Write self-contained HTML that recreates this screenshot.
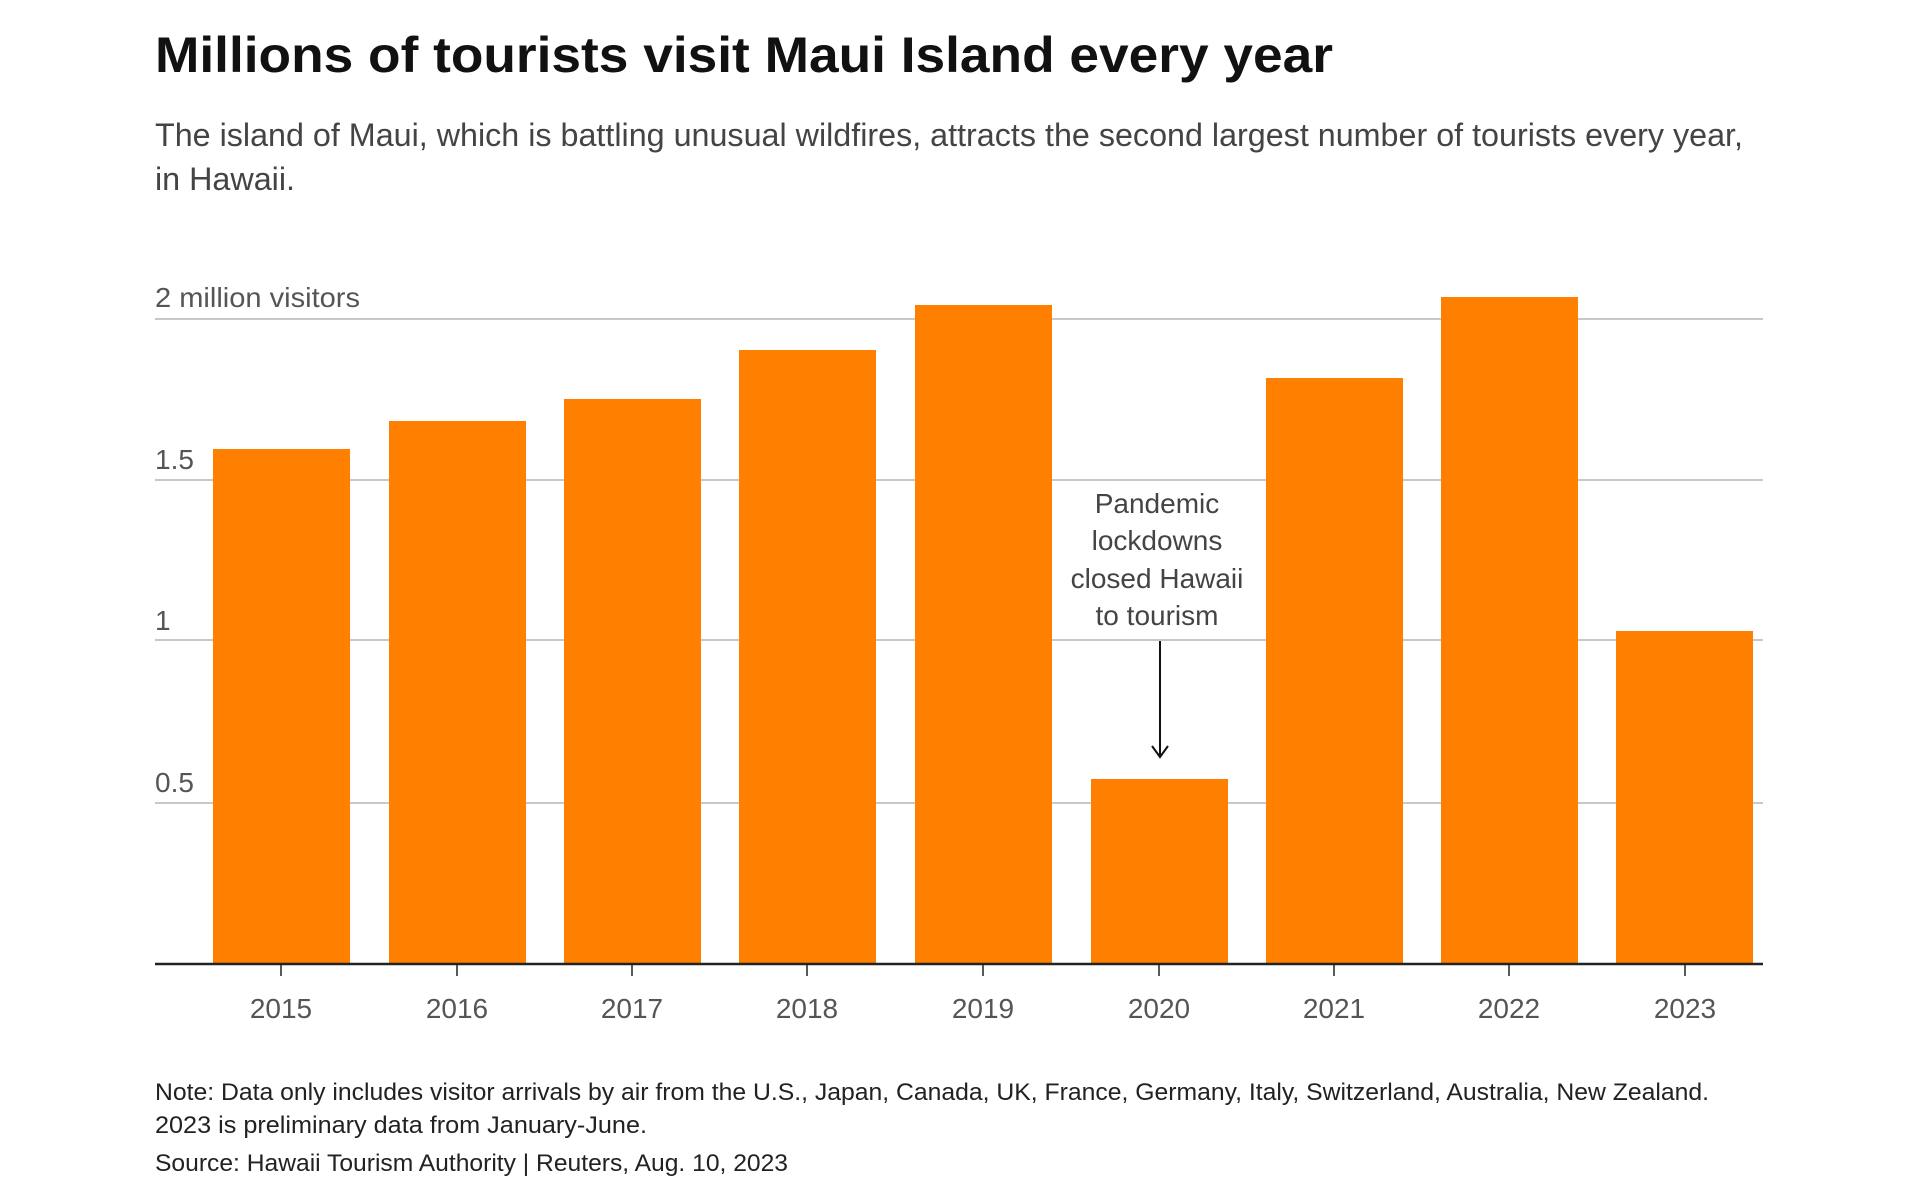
<!DOCTYPE html>
<html><head><meta charset="utf-8"><style>
html,body{margin:0;padding:0;background:#fff;}
svg{display:block;}
text{font-family:"Liberation Sans",sans-serif;}
</style></head><body>
<svg width="1920" height="1186" viewBox="0 0 1920 1186" xmlns="http://www.w3.org/2000/svg">
<rect width="1920" height="1186" fill="#fff"/>
<text x="155" y="72" font-size="50" font-weight="bold" fill="#111" textLength="1178" lengthAdjust="spacingAndGlyphs">Millions of tourists visit Maui Island every year</text>
<text x="155" y="146" font-size="32" fill="#444" textLength="1588" lengthAdjust="spacingAndGlyphs">The island of Maui, which is battling unusual wildfires, attracts the second largest number of tourists every year,</text>
<text x="155" y="190" font-size="32" fill="#444" textLength="140" lengthAdjust="spacingAndGlyphs">in Hawaii.</text>
<g stroke="#c8c8c8" stroke-width="2">
<line x1="155" y1="319" x2="1763" y2="319"/>
<line x1="155" y1="480" x2="1763" y2="480"/>
<line x1="155" y1="640" x2="1763" y2="640"/>
<line x1="155" y1="803" x2="1763" y2="803"/>
</g>
<rect x="1068" y="482" width="184" height="148" fill="#fff"/>
<g font-size="28" fill="#555">
<text x="155" y="307" textLength="205" lengthAdjust="spacingAndGlyphs">2 million visitors</text>
<text x="155" y="469">1.5</text>
<text x="155" y="630">1</text>
<text x="155" y="792">0.5</text>
</g>
<g fill="#ff8000">
<rect x="213" y="449" width="137" height="515"/>
<rect x="389" y="421" width="137" height="543"/>
<rect x="564" y="399" width="137" height="565"/>
<rect x="739" y="350" width="137" height="614"/>
<rect x="915" y="305" width="137" height="659"/>
<rect x="1091" y="779" width="137" height="185"/>
<rect x="1266" y="378" width="137" height="586"/>
<rect x="1441" y="297" width="137" height="667"/>
<rect x="1616" y="631" width="137" height="333"/>
</g>
<line x1="155" y1="964" x2="1763" y2="964" stroke="#222" stroke-width="2.5"/>
<g stroke="#222" stroke-width="1.5">
<line x1="281" y1="964" x2="281" y2="976"/><line x1="457" y1="964" x2="457" y2="976"/>
<line x1="632" y1="964" x2="632" y2="976"/><line x1="807" y1="964" x2="807" y2="976"/>
<line x1="983" y1="964" x2="983" y2="976"/><line x1="1159" y1="964" x2="1159" y2="976"/>
<line x1="1334" y1="964" x2="1334" y2="976"/><line x1="1509" y1="964" x2="1509" y2="976"/>
<line x1="1685" y1="964" x2="1685" y2="976"/>
</g>
<g font-size="28" fill="#555" text-anchor="middle">
<text x="281" y="1018">2015</text><text x="457" y="1018">2016</text><text x="632" y="1018">2017</text>
<text x="807" y="1018">2018</text><text x="983" y="1018">2019</text><text x="1159" y="1018">2020</text>
<text x="1334" y="1018">2021</text><text x="1509" y="1018">2022</text><text x="1685" y="1018">2023</text>
</g>
<g font-size="28" fill="#444" text-anchor="middle">
<text x="1157" y="513">Pandemic</text>
<text x="1157" y="550">lockdowns</text>
<text x="1157" y="588">closed Hawaii</text>
<text x="1157" y="625">to tourism</text>
</g>
<line x1="1160" y1="641" x2="1160" y2="757" stroke="#111" stroke-width="2"/>
<polyline points="1152,746 1160,757 1168,746" fill="none" stroke="#111" stroke-width="2"/>
<g font-size="24" fill="#222">
<text x="155" y="1100" textLength="1554" lengthAdjust="spacingAndGlyphs">Note: Data only includes visitor arrivals by air from the U.S., Japan, Canada, UK, France, Germany, Italy, Switzerland, Australia, New Zealand.</text>
<text x="155" y="1133" textLength="492" lengthAdjust="spacingAndGlyphs">2023 is preliminary data from January-June.</text>
<text x="155" y="1171" textLength="633" lengthAdjust="spacingAndGlyphs">Source: Hawaii Tourism Authority | Reuters, Aug. 10, 2023</text>
</g>
</svg>
</body></html>
